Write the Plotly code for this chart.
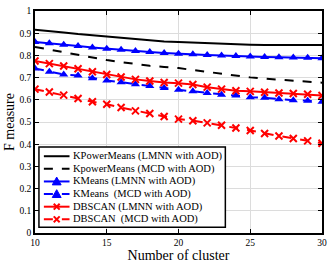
import plotly.graph_objects as go

clusters = list(range(10, 31))
kpm_lmnn = [0.915, 0.91, 0.903, 0.896, 0.89, 0.884, 0.878, 0.872, 0.867, 0.863, 0.860,
            0.857, 0.855, 0.852, 0.850, 0.848, 0.847, 0.847, 0.847, 0.847, 0.847]
kpm_mcd = [0.838, 0.826, 0.814, 0.802, 0.79, 0.779, 0.77, 0.761, 0.753, 0.748, 0.743,
           0.734, 0.725, 0.716, 0.708, 0.701, 0.695, 0.69, 0.685, 0.681, 0.677]
km_lmnn = [0.86, 0.855, 0.848, 0.842, 0.836, 0.83, 0.825, 0.82, 0.815, 0.811, 0.807,
           0.805, 0.802, 0.8, 0.797, 0.795, 0.793, 0.792, 0.79, 0.789, 0.787]
km_mcd = [0.741, 0.726, 0.714, 0.71, 0.697, 0.687, 0.679, 0.67, 0.662, 0.653, 0.645,
          0.638, 0.631, 0.623, 0.619, 0.612, 0.609, 0.602, 0.598, 0.596, 0.591]
db_lmnn = [0.775, 0.763, 0.752, 0.74, 0.726, 0.714, 0.703, 0.692, 0.685, 0.678, 0.675,
           0.669, 0.657, 0.648, 0.641, 0.638, 0.634, 0.631, 0.628, 0.625, 0.619]
db_mcd = [0.648, 0.635, 0.621, 0.606, 0.591, 0.58, 0.565, 0.55, 0.538, 0.525, 0.513,
          0.506, 0.496, 0.485, 0.473, 0.462, 0.448, 0.437, 0.426, 0.415, 0.404]

names = ["KPowerMeans (LMNN with AOD)", "KpowerMeans (MCD with AOD)",
         "KMeans (LMNN with AOD)", "KMeans  (MCD with AOD)",
         "DBSCAN (LMNN with AOD)", "DBSCAN  (MCD with AOD)"]
series = [kpm_lmnn, kpm_mcd, km_lmnn, km_mcd, db_lmnn, db_mcd]
colors = ["black", "black", "blue", "blue", "red", "red"]
dashes = ["solid", "dash", "solid", "dash", "solid", "dash"]
symbols = [None, None, "triangle-up", "triangle-up", "x-thin-open", "x-thin-open"]

W, H = 333, 268
L, R, T, B = 35, 7, 6, 35
PW, PH = W - L - R, H - T - B


def px_x(p):
    return (p - L) / PW


def px_y(p):
    return (H - B - p) / PH


fig = go.Figure()
for nm, ys, c, d, s in zip(names, series, colors, dashes, symbols):
    if s is None:
        fig.add_trace(go.Scatter(x=clusters, y=ys, name=nm, mode="lines",
                                 line=dict(color=c, width=2, dash=d), showlegend=False))
    elif s == "triangle-up":
        fig.add_trace(go.Scatter(x=clusters, y=ys, name=nm, mode="lines+markers",
                                 line=dict(color=c, width=2, dash=d),
                                 marker=dict(symbol=s, size=8, color=c), showlegend=False))
    else:
        fig.add_trace(go.Scatter(x=clusters, y=ys, name=nm, mode="lines+markers",
                                 line=dict(color=c, width=2, dash=d),
                                 marker=dict(symbol=s, size=7, color=c,
                                             line=dict(width=2, color=c)),
                                 showlegend=False))

# Manual legend (decoration) drawn in pixel space
shapes = []
annotations = []
box_l, box_r, box_t, box_b = 39, 228, 145, 227
shapes.append(dict(type="rect", xref="paper", yref="paper",
                   x0=px_x(box_l), x1=px_x(box_r), y0=px_y(box_b), y1=px_y(box_t),
                   line=dict(color="black", width=1.5), fillcolor="white", layer="above"))
row0, row_step = 154.5, 12.9
for i, (nm, c, d, s) in enumerate(zip(names, colors, dashes, symbols)):
    yc = row0 + i * row_step
    shapes.append(dict(type="line", xref="paper", yref="paper",
                       x0=px_x(44), x1=px_x(70), y0=px_y(yc), y1=px_y(yc),
                       line=dict(color=c, width=2, dash=d), layer="above"))
    mx = 57
    if s == "triangle-up":
        path = "M {} {} L {} {} L {} {} Z".format(
            px_x(mx - 4.5), px_y(yc + 3.5), px_x(mx + 4.5), px_y(yc + 3.5),
            px_x(mx), px_y(yc - 4.5))
        shapes.append(dict(type="path", xref="paper", yref="paper", path=path,
                           fillcolor=c, line=dict(color=c, width=1), layer="above"))
    elif s == "x-thin-open":
        for sgn in (1, -1):
            shapes.append(dict(type="line", xref="paper", yref="paper",
                               x0=px_x(mx - 3), x1=px_x(mx + 3),
                               y0=px_y(yc - 3 * sgn), y1=px_y(yc + 3 * sgn),
                               line=dict(color=c, width=2), layer="above"))
    annotations.append(dict(xref="paper", yref="paper", x=px_x(72), y=px_y(yc),
                            xanchor="left", yanchor="middle", showarrow=False,
                            text=nm.replace("  ", "&nbsp; "),
                            font=dict(family="Liberation Serif", size=10.5, color="black")))

axis_common = dict(showline=True, linecolor="black", linewidth=1.5, mirror="allticks",
                   ticks="inside", ticklen=4, tickcolor="black",
                   showgrid=True, gridcolor="#dcdcdc", gridwidth=1, zeroline=False,
                   tickfont=dict(family="Liberation Serif", size=9.5, color="black"))

fig.update_layout(
    width=W, height=H,
    margin=dict(l=L, r=R, t=T, b=B),
    plot_bgcolor="white", paper_bgcolor="white",
    font=dict(family="Liberation Serif", color="black"),
    xaxis=dict(range=[10, 30], tickvals=[10, 15, 20, 25, 30],
               title=dict(text="Number of cluster", font=dict(size=14), standoff=2),
               **axis_common),
    yaxis=dict(range=[0, 1], tickvals=[0, 0.1, 0.2, 0.3, 0.4, 0.5, 0.6, 0.7, 0.8, 0.9, 1],
               ticktext=["0", "0.1", "0.2", "0.3", "0.4", "0.5", "0.6", "0.7", "0.8", "0.9", "1"],
               title=dict(text="F measure", font=dict(size=14), standoff=2),
               **axis_common),
    shapes=shapes,
    annotations=annotations,
    showlegend=False,
)

fig.write_html("out.html",
               config={"displayModeBar": False},
               post_script="document.body.style.margin='0';document.body.style.overflow='hidden';")
